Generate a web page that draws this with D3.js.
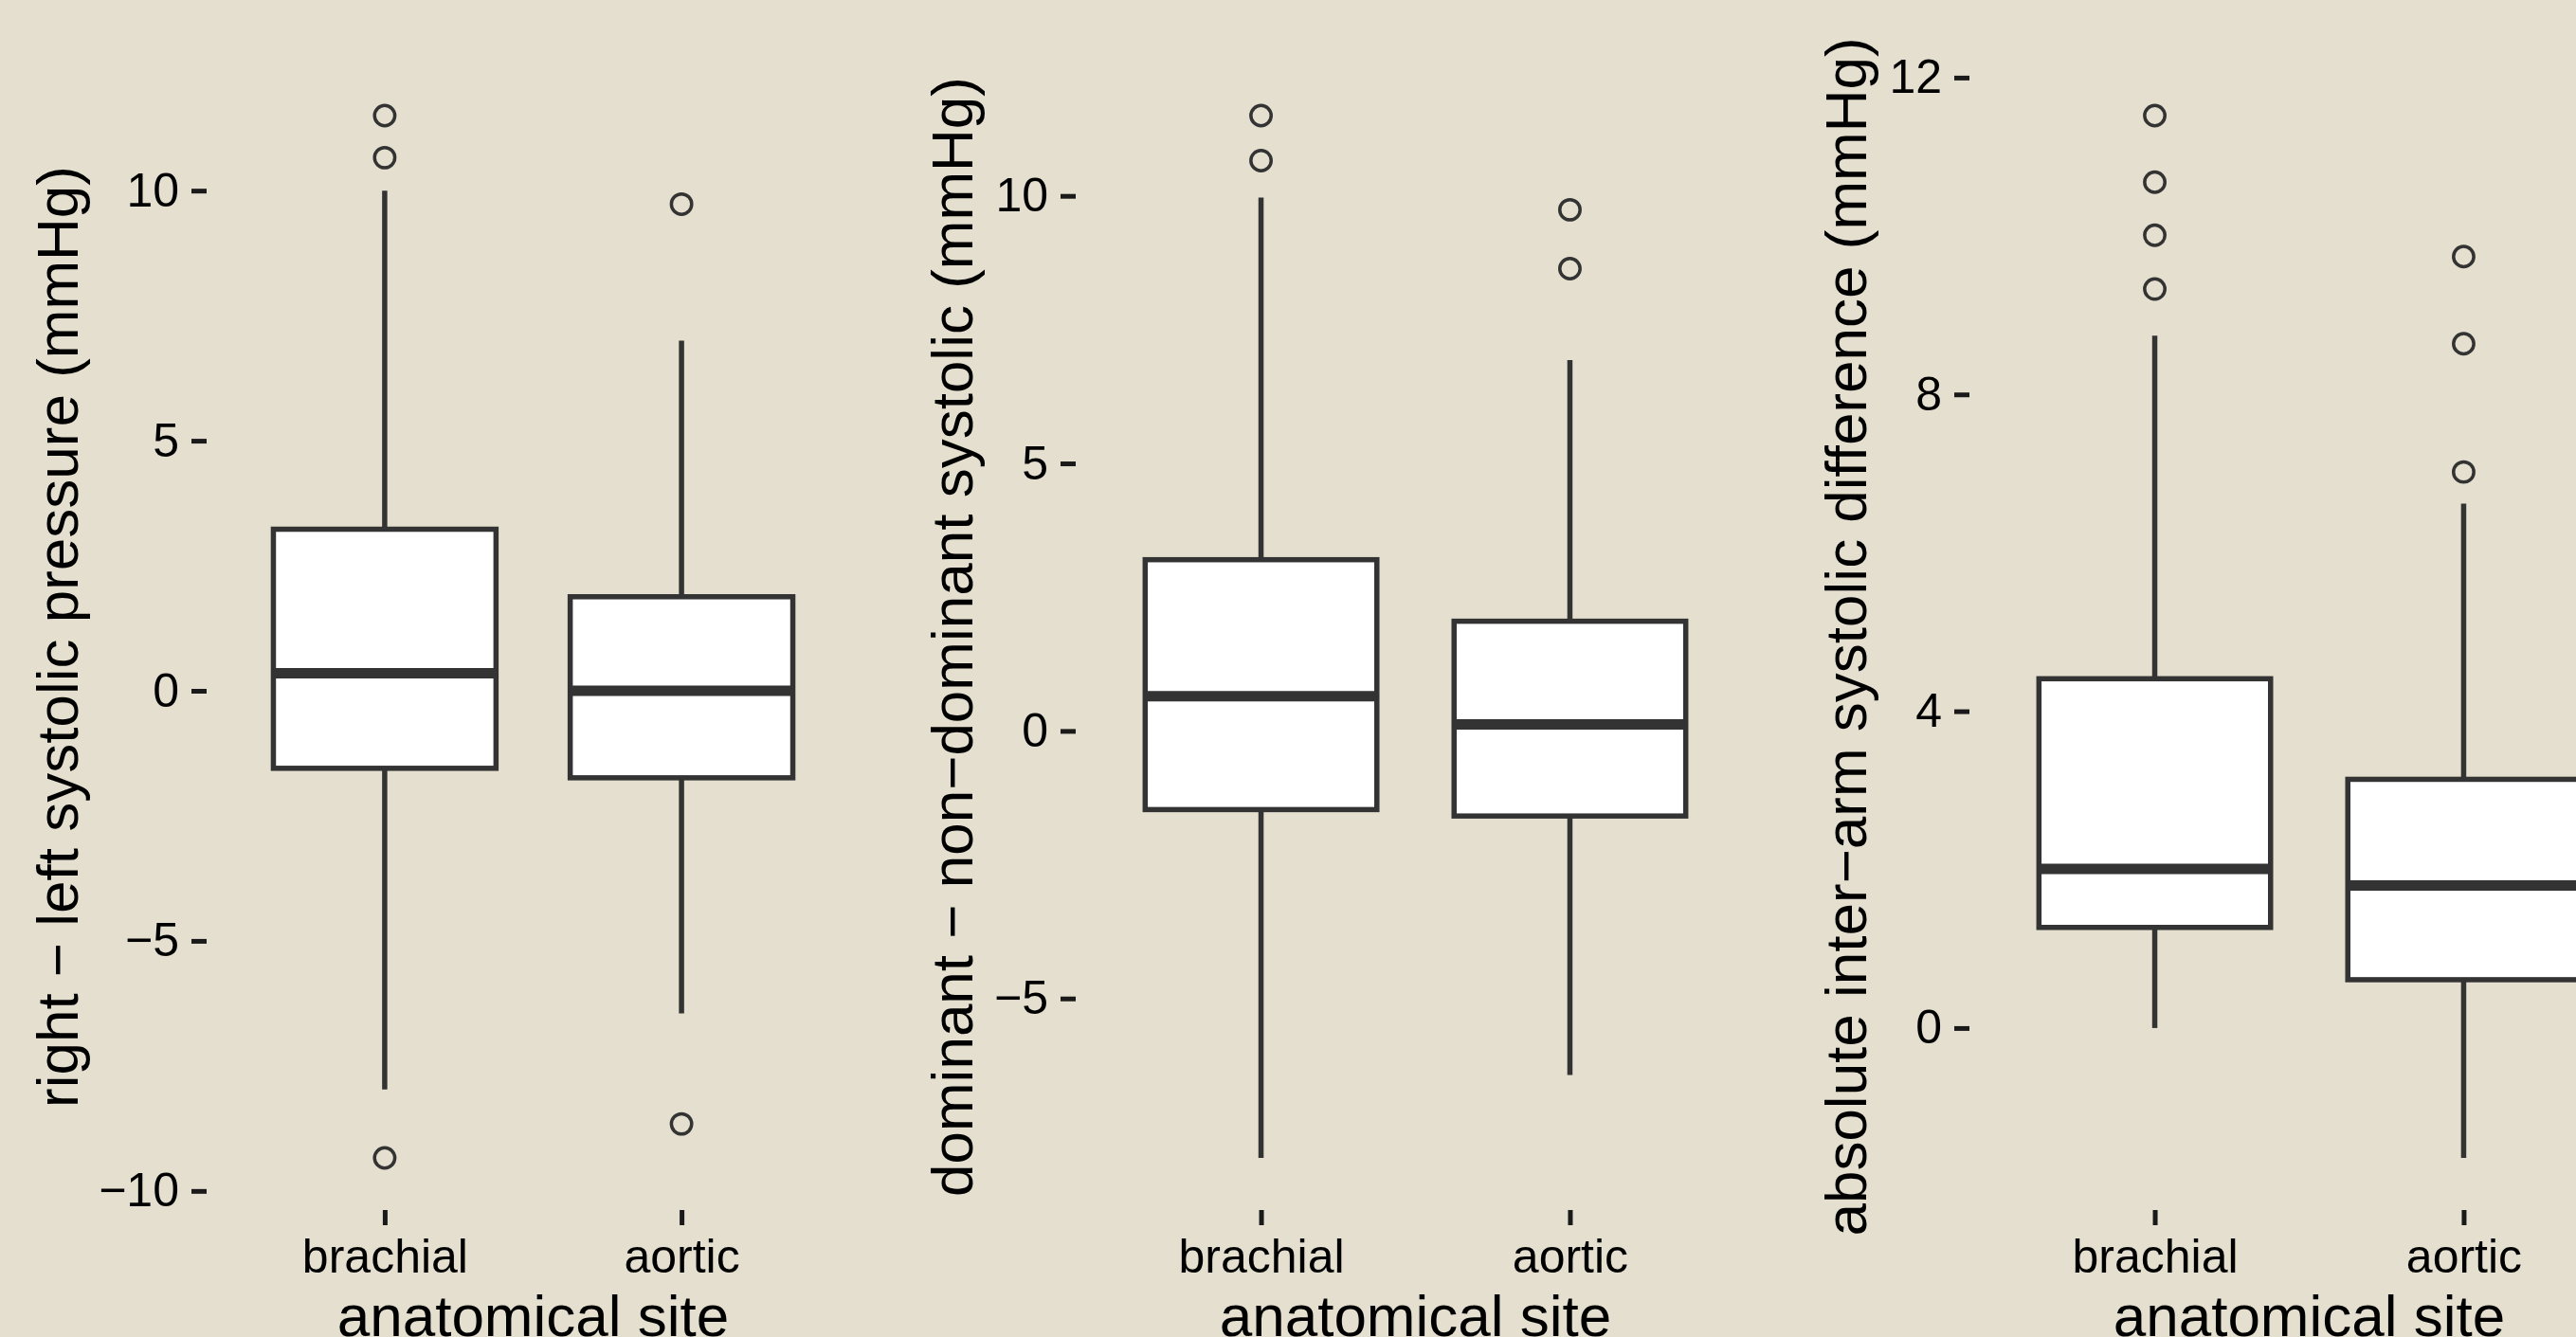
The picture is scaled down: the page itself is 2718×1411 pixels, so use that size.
<!DOCTYPE html>
<html>
<head>
<meta charset="utf-8">
<script src="https://cdn.jsdelivr.net/npm/d3@7"></script>
<style>
  html, body { margin: 0; padding: 0; background: #e4dfce; overflow: hidden; }
  svg { display: block; }
  text { font-family: "Liberation Sans", Arial, Helvetica, sans-serif; }
</style>
</head>
<body>
<svg id="chart" width="2718" height="1411"></svg>
<script>
// ---------------- data ----------------
const categories = ["brachial", "aortic"];
const xTitle = "anatomical site";
const yTitles = [
  "right \u2212 left systolic pressure (mmHg)",
  "dominant \u2212 non\u2212dominant systolic (mmHg)",
  "absolute inter\u2212arm systolic difference (mmHg)"
];
// box stats per category: [lower whisker, Q1, median, Q3, upper whisker]
const rightLeftBox = [[-7.97, -1.55, 0.35, 3.23, 10.0], [-6.45, -1.74, 0.0, 1.88, 7.0]];
const rightLeftOut = [[11.5, 10.66, -9.34], [9.73, -8.66]];
const domNonBox = [[-7.98, -1.47, 0.65, 3.2, 9.97], [-6.43, -1.59, 0.12, 2.05, 6.93]];
const domNonOut = [[11.5, 10.66], [9.74, 8.64]];
const absBox = [[0.0, 1.27, 2.01, 4.41, 8.74], [-1.64, 0.61, 1.8, 3.14, 6.62]];
const absOut = [[11.52, 10.68, 10.01, 9.33], [9.74, 8.64, 7.02]];
const ticks1 = [-10, -5, 0, 5, 10];
const ticks2 = [-5, 0, 5, 10];
const ticks3 = [0, 4, 8, 12];

// ---------------- layout ----------------
const panels = [
  { box: rightLeftBox, out: rightLeftOut, ticks: ticks1, title: yTitles[0], x0: 218, x1: 907, titleX: 82 },
  { box: domNonBox, out: domNonOut, ticks: ticks2, title: yTitles[1], x0: 1135, x1: 1852, titleX: 1026 },
  { box: absBox, out: absOut, ticks: ticks3, title: yTitles[2], x0: 2078, x1: 2795, titleX: 1969 }
];
const yTop = 67, yBot = 1277;
const ink = "#333333";
const svg = d3.select("#chart");

panels.forEach(p => {
  const all = p.box.flat().concat(p.out.flat());
  const lo = d3.min(all), hi = d3.max(all);
  const pad = (hi - lo) * 0.05;
  const y = d3.scaleLinear().domain([lo - pad, hi + pad]).range([yBot, yTop]);
  const x = d3.scalePoint().domain(categories).range([p.x0, p.x1]).padding(0.6);
  const boxW = x.step() * 0.75;

  const g = svg.append("g");

  // y axis
  const ya = g.append("g").attr("transform", `translate(${p.x0},0)`)
    .call(d3.axisLeft(y).tickValues(p.ticks).tickSize(16).tickPadding(13));
  ya.select(".domain").remove();
  ya.selectAll(".tick line").attr("stroke", "#1a1a1a").attr("stroke-width", 5);
  ya.selectAll(".tick text").attr("fill", "#000").style("font-size", "50px");

  // x axis
  const xa = g.append("g").attr("transform", `translate(0,${yBot})`)
    .call(d3.axisBottom(x).tickSize(16).tickPadding(14));
  xa.select(".domain").remove();
  xa.selectAll(".tick line").attr("stroke", "#1a1a1a").attr("stroke-width", 5);
  xa.selectAll(".tick text").attr("fill", "#000").style("font-size", "50px");

  // boxes
  categories.forEach((c, i) => {
    const [lw, q1, med, q3, uw] = p.box[i];
    const cx = x(c);
    const bg = g.append("g");
    bg.append("line").attr("x1", cx).attr("x2", cx).attr("y1", y(q3)).attr("y2", y(uw))
      .attr("stroke", ink).attr("stroke-width", 5.5);
    bg.append("line").attr("x1", cx).attr("x2", cx).attr("y1", y(q1)).attr("y2", y(lw))
      .attr("stroke", ink).attr("stroke-width", 5.5);
    bg.append("rect").attr("x", cx - boxW / 2).attr("width", boxW)
      .attr("y", y(q3)).attr("height", y(q1) - y(q3))
      .attr("fill", "#ffffff").attr("stroke", ink).attr("stroke-width", 5.5);
    bg.append("line").attr("x1", cx - boxW / 2).attr("x2", cx + boxW / 2)
      .attr("y1", y(med)).attr("y2", y(med))
      .attr("stroke", ink).attr("stroke-width", 11);
    bg.selectAll("circle.out").data(p.out[i]).join("circle")
      .attr("class", "out")
      .attr("cx", cx).attr("cy", d => y(d)).attr("r", 10.7)
      .attr("fill", "none").attr("stroke", ink).attr("stroke-width", 3.5);
  });

  // titles
  g.append("text")
    .attr("x", (p.x0 + p.x1) / 2).attr("y", 1410)
    .attr("text-anchor", "middle").attr("fill", "#000")
    .style("font-size", "62px").text(xTitle);
  g.append("text")
    .attr("transform", `translate(${p.titleX},${(yTop + yBot) / 2}) rotate(-90)`)
    .attr("text-anchor", "middle").attr("fill", "#000")
    .style("font-size", "62px").text(p.title);
});
</script>
</body>
</html>
